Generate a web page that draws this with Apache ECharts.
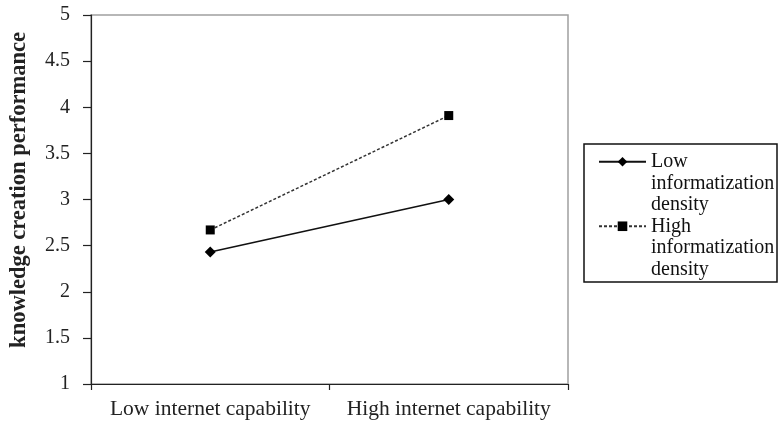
<!DOCTYPE html>
<html>
<head>
<meta charset="utf-8">
<script src="https://cdn.jsdelivr.net/npm/echarts@6/dist/echarts.min.js"></script>
<style>
html,body{margin:0;padding:0;background:#fff;}
#chart{width:778px;height:423px;}
</style>
</head>
<body>
<div id="chart"></div>
<script>
// ---- data ----
const categories = ['Low internet capability', 'High internet capability'];
const seriesNames = ['Low informatization density', 'High informatization density'];
const legendLabels = ['Low\ninformatization\ndensity', 'High\ninformatization\ndensity'];
const lowDensity = [2.43, 3.00];
const highDensity = [2.67, 3.91];
const yTicks = { min: 1, max: 5, interval: 0.5 };
const yAxisTitle = 'knowledge creation performance';

const FONT = '"Liberation Serif", "Times New Roman", serif';
const LH = 21.5;

const chart = echarts.init(document.getElementById('chart'), null, { renderer: 'canvas' });
chart.setOption({
  backgroundColor: '#fff',
  animation: false,
  grid: {
    left: 90, right: 210, top: 15, bottom: 39,
    show: true, borderColor: '#a0a0a0', borderWidth: 1.5, backgroundColor: 'transparent'
  },
  xAxis: {
    type: 'category',
    data: categories,
    boundaryGap: true,
    axisLine: { lineStyle: { color: '#222', width: 1.2 } },
    axisTick: { show: true, length: 6, lineStyle: { color: '#222', width: 1.2 } },
    axisLabel: { color: '#222', fontFamily: FONT, fontSize: 21.5, margin: 14, interval: 0 }
  },
  yAxis: {
    type: 'value',
    min: yTicks.min, max: yTicks.max, interval: yTicks.interval,
    name: yAxisTitle,
    nameLocation: 'middle',
    nameGap: 60,
    nameTextStyle: { color: '#222', fontFamily: FONT, fontSize: 22.5, fontWeight: 'bold', padding: [0, 0, 0, 19] },
    axisLine: { show: true, lineStyle: { color: '#222', width: 1.2 } },
    axisTick: { show: true, length: 8, lineStyle: { color: '#222', width: 1.2 } },
    axisLabel: { color: '#222', fontFamily: FONT, fontSize: 20, margin: 21 },
    splitLine: { show: false }
  },
  legend: {
    orient: 'vertical',
    left: 598, top: 108,
    padding: 0,
    itemGap: -2 * LH,
    itemWidth: 47, itemHeight: 12,
    data: seriesNames,
    formatter: function (name) { return '\n\n' + legendLabels[seriesNames.indexOf(name)]; },
    textStyle: { color: '#111', fontFamily: FONT, fontSize: 20, lineHeight: LH }
  },
  graphic: [{
    type: 'rect',
    shape: { x: 584, y: 144, width: 193, height: 138 },
    style: { fill: 'none', stroke: '#111', lineWidth: 1.5 },
    silent: true
  }],
  series: [
    {
      name: seriesNames[0],
      type: 'line',
      data: lowDensity,
      symbol: 'diamond',
      symbolSize: 11,
      lineStyle: { color: '#111', width: 1.5, type: 'solid' },
      itemStyle: { color: '#000' }
    },
    {
      name: seriesNames[1],
      type: 'line',
      data: highDensity,
      symbol: 'rect',
      symbolSize: 9,
      lineStyle: { color: '#333', width: 1.5, type: [3, 2] },
      itemStyle: { color: '#000' }
    }
  ]
});
</script>
</body>
</html>
